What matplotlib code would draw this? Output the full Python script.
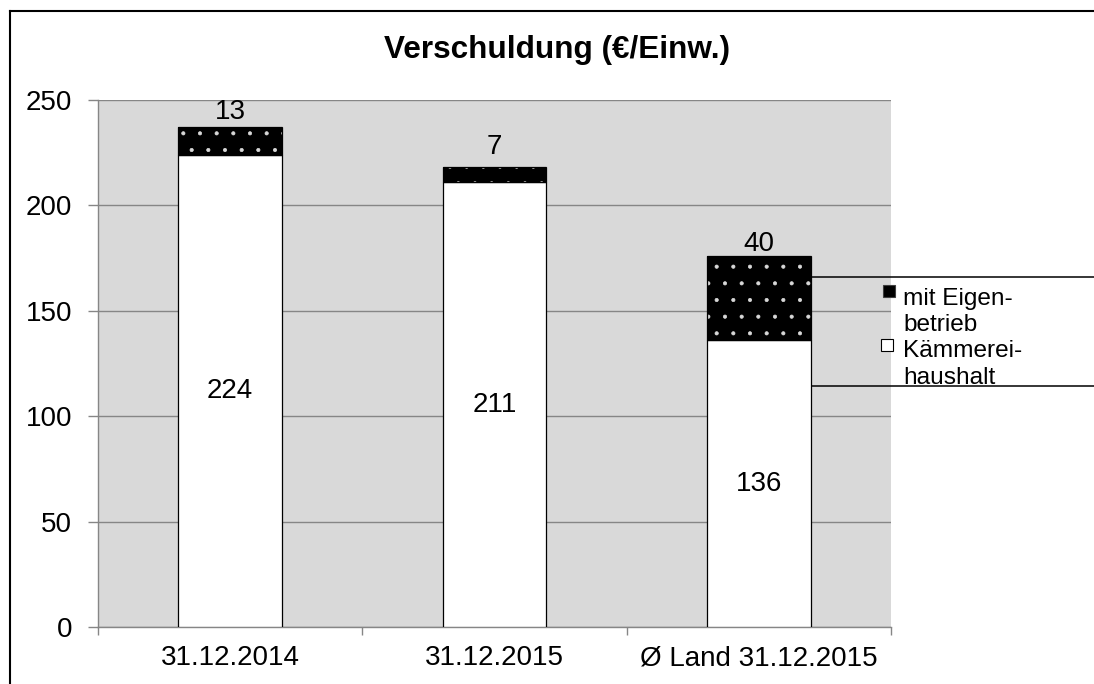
import matplotlib
matplotlib.use('Agg')
import matplotlib.pyplot as plt
from matplotlib.patches import Rectangle
from matplotlib.lines import Line2D

categories = ['31.12.2014', '31.12.2015', 'Ø Land 31.12.2015']
kaemmerei = [224, 211, 136]       # Kämmereihaushalt
eigenbetrieb = [13, 7, 40]        # mit Eigenbetrieb
yticks = [0, 50, 100, 150, 200, 250]
legend_labels = [['mit Eigen-', 'betrieb'], ['Kämmerei-', 'haushalt']]

# label offsets above stacked bar (points), placed by hand in the original
top_label_offset = [11, 14.4, 8.6]

plt.rcParams['font.family'] = ['Liberation Sans', 'DejaVu Sans']
plt.rcParams['hatch.linewidth'] = 0.5
W, H = 1094, 684
fig = plt.figure(figsize=(W / 100, H / 100), dpi=100)
ax = fig.add_axes([98 / W, 57 / H, (891 - 98) / W, 527 / H])
ax.set_facecolor('#d9d9d9')

grey = '#868686'
x = list(range(len(categories)))
bw = 0.393

ax.bar(x, kaemmerei, bw, color='white', edgecolor='black', linewidth=0.9, zorder=3)
# dotted black segment: light hatch dots first, black outline on top
ax.bar(x, eigenbetrieb, bw, bottom=kaemmerei, color='black', edgecolor='#d8d8d8',
       hatch='.', linewidth=0, zorder=3)
ax.bar(x, eigenbetrieb, bw, bottom=kaemmerei, fill=False, edgecolor='black',
       linewidth=0.9, zorder=4)

for i in x:
    ax.text(i, kaemmerei[i] / 2, str(kaemmerei[i]), ha='center', va='center',
            fontsize=20, zorder=5)
    ax.annotate(str(eigenbetrieb[i]), (i, kaemmerei[i] + eigenbetrieb[i]),
                xytext=(0, top_label_offset[i]), textcoords='offset points',
                ha='center', va='center', fontsize=20, zorder=5)

ax.set_xlim(-0.5, 2.5)
ax.set_ylim(0, 250)
ax.set_yticks(yticks)
ax.yaxis.grid(True, color=grey, linewidth=1)
ax.set_axisbelow(True)

ax.set_xticks(x)
ax.set_xticklabels(categories)
ax.set_xticks([-0.5, 0.5, 1.5, 2.5], minor=True)
ax.tick_params(axis='x', which='major', length=0, pad=13, labelsize=20)
ax.tick_params(axis='x', which='minor', length=6, color=grey, width=1)
ax.tick_params(axis='y', length=7.5, color=grey, width=1, pad=11, labelsize=20)

for s in ['top', 'right']:
    ax.spines[s].set_visible(False)
for s in ['left', 'bottom']:
    ax.spines[s].set_color(grey)
    ax.spines[s].set_linewidth(1)

fig.text(557 / W, 1 - 58 / H, 'Verschuldung (€/Einw.)', ha='center', va='baseline',
         fontsize=22.7, fontweight='bold')

# legend box (runs off the right edge, as in the original)
for yy in [277, 386]:
    fig.add_artist(Line2D([812 / W, 1.0], [1 - yy / H, 1 - yy / H], color='black',
                          linewidth=1.1, transform=fig.transFigure))
fig.add_artist(Rectangle((883 / W, 1 - 297 / H), 12 / W, 12 / H, facecolor='black',
                         edgecolor='#404040', linewidth=0.8, transform=fig.transFigure))
fig.add_artist(Rectangle((881 / W, 1 - 351 / H), 12 / W, 12 / H, facecolor='white',
                         edgecolor='black', linewidth=0.8, transform=fig.transFigure))
baselines = [[305, 331], [357, 384]]
for lab, bl in zip(legend_labels, baselines):
    for line, yy in zip(lab, bl):
        fig.text(903 / W, 1 - yy / H, line, ha='left', va='baseline', fontsize=17.6)

# outer chart frame (left and top edges)
fig.add_artist(Line2D([10 / W, 10 / W], [0, 1 - 11 / H], color='black', linewidth=1.5,
                      transform=fig.transFigure))
fig.add_artist(Line2D([10 / W, 1.0], [1 - 11 / H, 1 - 11 / H], color='black', linewidth=1.5,
                      transform=fig.transFigure))

fig.savefig('out.png', dpi=100)
